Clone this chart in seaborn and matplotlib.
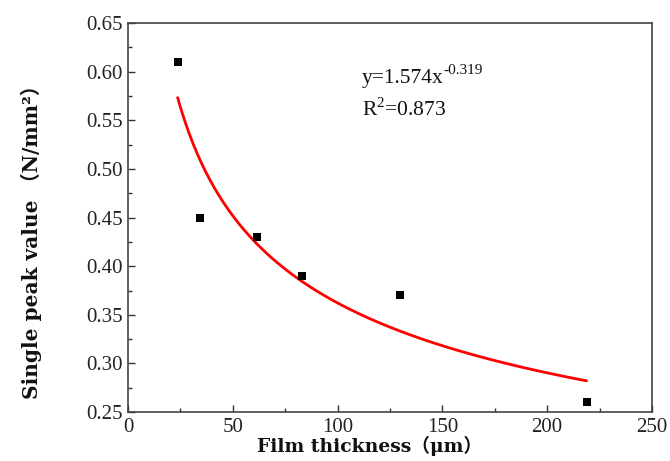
import numpy as np
import pandas as pd
import matplotlib
matplotlib.use("Agg")
import matplotlib.pyplot as plt
import seaborn as sns
from matplotlib.ticker import MultipleLocator

# Data
thickness = [23.7, 34.4, 61.6, 83.1, 129.8, 218.8]
peak_value = [0.610, 0.450, 0.430, 0.390, 0.370, 0.260]

# Fit parameters shown on the chart: y = a * x^b
fit_a = 1.574
fit_b = -0.319
r_squared = 0.873

x_ticks = [0, 50, 100, 150, 200, 250]
y_ticks = [0.25, 0.30, 0.35, 0.40, 0.45, 0.50, 0.55, 0.60, 0.65]

sns.set_theme(style="ticks")
plt.rcParams['font.family'] = ['Liberation Serif', 'Noto Sans CJK SC', 'DejaVu Serif']
plt.rcParams['mathtext.fontset'] = 'custom'
plt.rcParams['mathtext.rm'] = 'Liberation Serif'

fig = plt.figure(figsize=(6.7, 4.61), dpi=100)
ax = fig.add_axes([0.191, 0.106, 0.782, 0.844])

df = pd.DataFrame({"x": thickness, "y": peak_value})
xf = np.linspace(min(thickness), max(thickness), 300)
fit_df = pd.DataFrame({"x": xf, "y": fit_a * xf ** fit_b})

sns.lineplot(data=fit_df, x="x", y="y", ax=ax, color="#ff0000", linewidth=2.0)
sns.scatterplot(data=df, x="x", y="y", ax=ax, marker="s", color="black",
                s=32, edgecolor="black", linewidth=0, zorder=3)

ax.set_xlim(0, 250)
ax.set_ylim(0.25, 0.65)
ax.set_xticks(x_ticks)
ax.set_yticks(y_ticks)
ax.set_xticklabels([str(v) for v in x_ticks])
ax.set_yticklabels([f"{v:.2f}" for v in y_ticks])
ax.xaxis.set_minor_locator(MultipleLocator(25))
ax.yaxis.set_minor_locator(MultipleLocator(0.025))
ax.tick_params(axis="both", which="major", direction="in", length=5, width=1,
               labelsize=15, colors="#333333", labelcolor="#222222",
               top=False, right=False, pad=4)
ax.tick_params(axis="both", which="minor", direction="in", length=3, width=1,
               colors="#333333", top=False, right=False)
for sp in ax.spines.values():
    sp.set_linewidth(1.2)
    sp.set_color("#444444")

label_family = ['DejaVu Serif', 'Noto Sans CJK SC']
ax.set_xlabel("")
ax.set_ylabel("")
fig.text(257 / 670, 1 - 452 / 461, "Film thickness（μm）", fontsize=13.5,
         fontweight="bold", ha="left", va="baseline", color="#111111",
         family=label_family)
fig.text(31 / 670, 1 - 237 / 461, "Single peak value （N/mm²）", fontsize=14.5,
         fontweight="bold", ha="center", va="center", rotation=90, color="#111111",
         family=label_family)

eq = ax.text(111.5, 0.5925, f"y={fit_a}x", fontsize=15.5,
             va="center", ha="left", color="#111111")
ax.annotate(f"{fit_b}", xy=(1.0, 0.62), xycoords=eq, fontsize=11,
            ha="left", va="bottom", color="#111111")
ax.text(111.5, 0.5615, f"R$^2$={r_squared}", fontsize=15.5, va="center", ha="left",
        color="#111111")

fig.savefig("out.png", dpi=100)
